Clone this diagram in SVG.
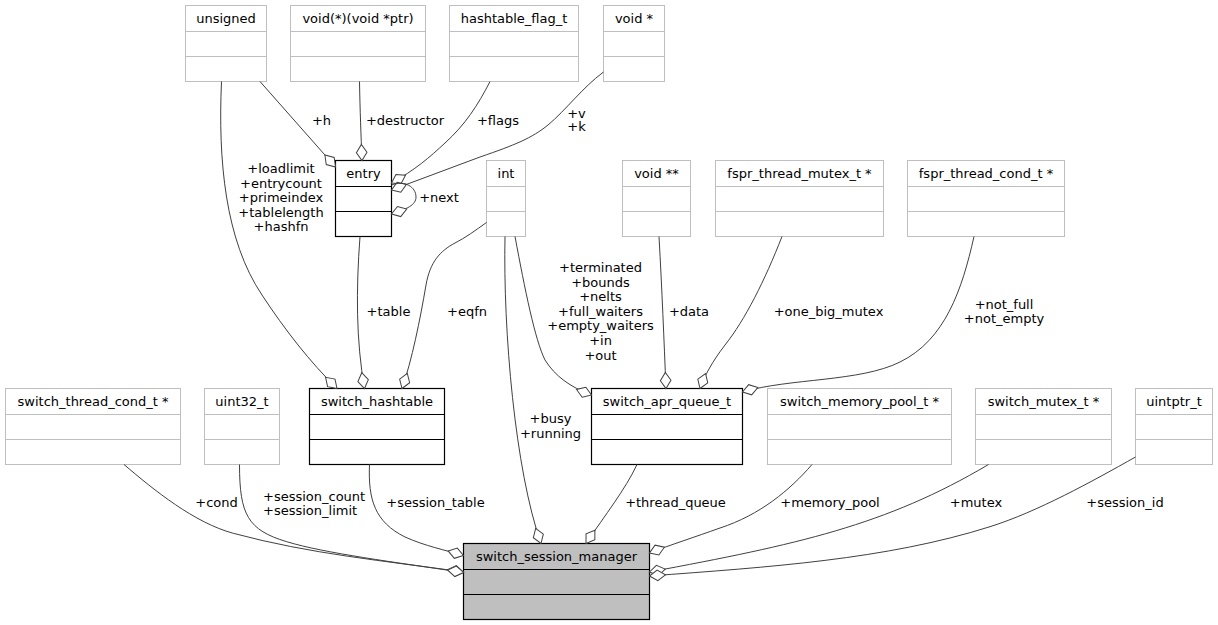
<svg xmlns="http://www.w3.org/2000/svg" width="1218" height="625" viewBox="0 0 1218 625">
<style>
text{font-family:"DejaVu Sans","Liberation Sans",sans-serif;font-size:13px;fill:#000;text-anchor:middle}
.ext rect{fill:#fff;stroke:#bfbfbf;stroke-width:1}
.ext line{stroke:#bfbfbf;stroke-width:1}
.doc rect{fill:#fff;stroke:#000;stroke-width:1.2}
.doc line{stroke:#000;stroke-width:1.2}
.main rect{fill:#bfbfbf;stroke:#000;stroke-width:1.2}
.main line{stroke:#000;stroke-width:1.2}
.e path{fill:none;stroke:#404040;stroke-width:1;marker-end:url(#od)}
.l text.s{text-anchor:start}
</style>
<defs>
<marker id="od" viewBox="0 0 18 12" refX="17" refY="6" markerWidth="18" markerHeight="12" markerUnits="userSpaceOnUse" orient="auto" overflow="visible">
<path d="M17,6 L9,0.7 L1,6 L9,11.3 Z" fill="#fff" stroke="#404040" stroke-width="1"/>
</marker>
</defs>
<rect width="1218" height="625" fill="#fff"/>

<g id="node-unsigned" class="ext"><rect x="185.5" y="5.5" width="81" height="76"/><line x1="185.5" y1="31.5" x2="266.5" y2="31.5"/><line x1="185.5" y1="56.5" x2="266.5" y2="56.5"/><text x="226" y="22.5">unsigned</text></g>
<g id="node-destructor-type" class="ext"><rect x="290.5" y="5.5" width="135" height="76"/><line x1="290.5" y1="31.5" x2="425.5" y2="31.5"/><line x1="290.5" y1="56.5" x2="425.5" y2="56.5"/><text x="358" y="22.5">void(*)(void *ptr)</text></g>
<g id="node-hashtable_flag_t" class="ext"><rect x="449.5" y="5.5" width="129" height="76"/><line x1="449.5" y1="31.5" x2="578.5" y2="31.5"/><line x1="449.5" y1="56.5" x2="578.5" y2="56.5"/><text x="514" y="22.5">hashtable_flag_t</text></g>
<g id="node-voidp" class="ext"><rect x="603.5" y="5.5" width="61" height="76"/><line x1="603.5" y1="31.5" x2="664.5" y2="31.5"/><line x1="603.5" y1="56.5" x2="664.5" y2="56.5"/><text x="634" y="22.5">void *</text></g>

<g id="node-entry" class="doc"><rect x="335.5" y="160.5" width="56" height="76"/><line x1="335.5" y1="186.5" x2="391.5" y2="186.5"/><line x1="335.5" y1="211.5" x2="391.5" y2="211.5"/><text x="363.5" y="177.5">entry</text></g>
<g id="node-int" class="ext"><rect x="486.5" y="160.5" width="39" height="76"/><line x1="486.5" y1="186.5" x2="525.5" y2="186.5"/><line x1="486.5" y1="211.5" x2="525.5" y2="211.5"/><text x="506" y="177.5">int</text></g>
<g id="node-voidpp" class="ext"><rect x="622.5" y="160.5" width="68" height="76"/><line x1="622.5" y1="186.5" x2="690.5" y2="186.5"/><line x1="622.5" y1="211.5" x2="690.5" y2="211.5"/><text x="656.5" y="177.5">void **</text></g>
<g id="node-fspr_thread_mutex_t" class="ext"><rect x="715.5" y="160.5" width="168" height="76"/><line x1="715.5" y1="186.5" x2="883.5" y2="186.5"/><line x1="715.5" y1="211.5" x2="883.5" y2="211.5"/><text x="799.5" y="177.5">fspr_thread_mutex_t *</text></g>
<g id="node-fspr_thread_cond_t" class="ext"><rect x="907.5" y="160.5" width="157" height="76"/><line x1="907.5" y1="186.5" x2="1064.5" y2="186.5"/><line x1="907.5" y1="211.5" x2="1064.5" y2="211.5"/><text x="986" y="177.5">fspr_thread_cond_t *</text></g>

<g id="node-switch_thread_cond_t" class="ext"><rect x="5.5" y="388.5" width="175" height="76"/><line x1="5.5" y1="414.5" x2="180.5" y2="414.5"/><line x1="5.5" y1="439.5" x2="180.5" y2="439.5"/><text x="93" y="405.5">switch_thread_cond_t *</text></g>
<g id="node-uint32_t" class="ext"><rect x="204.5" y="388.5" width="75" height="76"/><line x1="204.5" y1="414.5" x2="279.5" y2="414.5"/><line x1="204.5" y1="439.5" x2="279.5" y2="439.5"/><text x="242" y="405.5">uint32_t</text></g>
<g id="node-switch_hashtable" class="doc"><rect x="309.5" y="388.5" width="135" height="76"/><line x1="309.5" y1="414.5" x2="444.5" y2="414.5"/><line x1="309.5" y1="439.5" x2="444.5" y2="439.5"/><text x="377" y="405.5">switch_hashtable</text></g>
<g id="node-switch_apr_queue_t" class="doc"><rect x="591.5" y="388.5" width="151" height="76"/><line x1="591.5" y1="414.5" x2="742.5" y2="414.5"/><line x1="591.5" y1="439.5" x2="742.5" y2="439.5"/><text x="667" y="405.5">switch_apr_queue_t</text></g>
<g id="node-switch_memory_pool_t" class="ext"><rect x="767.5" y="388.5" width="184" height="76"/><line x1="767.5" y1="414.5" x2="951.5" y2="414.5"/><line x1="767.5" y1="439.5" x2="951.5" y2="439.5"/><text x="859.5" y="405.5">switch_memory_pool_t *</text></g>
<g id="node-switch_mutex_t" class="ext"><rect x="975.5" y="388.5" width="136" height="76"/><line x1="975.5" y1="414.5" x2="1111.5" y2="414.5"/><line x1="975.5" y1="439.5" x2="1111.5" y2="439.5"/><text x="1043.5" y="405.5">switch_mutex_t *</text></g>
<g id="node-uintptr_t" class="ext"><rect x="1135.5" y="388.5" width="77" height="76"/><line x1="1135.5" y1="414.5" x2="1212.5" y2="414.5"/><line x1="1135.5" y1="439.5" x2="1212.5" y2="439.5"/><text x="1174" y="405.5">uintptr_t</text></g>

<g id="node-switch_session_manager" class="main"><rect x="463.5" y="543.5" width="186" height="76"/><line x1="463.5" y1="569.5" x2="649.5" y2="569.5"/><line x1="463.5" y1="594.5" x2="649.5" y2="594.5"/><text x="556.5" y="560.5">switch_session_manager</text></g>

<g id="edges">
<g class="e">
<path d="M260,81.5 L335.5,167"/>
<path d="M359.5,81.5 C360,110 361,135 362,160.5"/>
<path d="M490,81.5 C478,105 465,125 445,143 C430,157 415,170 391.5,183"/>
<path d="M603.5,72 C582,88 566,110 548,125 C532,138 515,145 480,157 L391.5,190"/>
<path d="M391.5,185 C405,180 416,187 416,197 C416,205 407,209 391.5,214"/>
<path d="M221.5,81.5 C218,160 225,240 262,295 C285,330 310,362 337,388.5"/>
<path d="M360,236.5 C356,290 356,340 364.5,388.5"/>
<path d="M486.5,222.5 C476,230 465,238 455,243 C440,251 430,262 426,285 C420,320 412,360 402,388.5"/>
<path d="M515,236.5 C525,290 535,340 545,360 C555,376 570,387 591.5,395"/>
<path d="M659,236.5 C662,290 664,340 666,388.5"/>
<path d="M782,236.5 C765,280 745,320 725,345 C712,362 705,375 700,388.5"/>
<path d="M974,236.5 C962,290 945,340 900,362 C860,382 790,378 742.5,392"/>
<path d="M124,464.5 C154.4,490.5 194.7,522.9 233.3,533.3 C310.5,554.1 384.4,560.7 463.5,572"/>
<path d="M239.5,464.5 C239.5,515 248,530 286.7,541.7 C325,553.3 394.3,562.1 463.5,572.5"/>
<path d="M369.5,464.5 C368,500 375,522 405,537 C425,546 445,550 463.5,555.5"/>
<path d="M505,236.5 C503,330 515,470 541,543.5"/>
<path d="M637,464.5 C625,490 605,515 586,543.5"/>
<path d="M812,464.5 C790,490 760,515 720,528 C695,537 670,545 649.5,553"/>
<path d="M988.5,464.5 C885.3,525.7 797,544.4 649.5,572"/>
<path d="M1135.5,457 C1092,481.5 1037.5,511.7 990,526.7 C885.5,559.7 768.7,567 649.5,576"/>
</g>
<g class="l">
<text x="321.5" y="124.5">+h</text>
<text x="405" y="124.5">+destructor</text>
<text x="498" y="124.5">+flags</text>
<text x="576.5" y="118">+v</text>
<text x="576.5" y="131">+k</text>
<text x="439" y="201.5">+next</text>
<text x="281" y="173">+loadlimit</text>
<text x="281" y="187.5">+entrycount</text>
<text x="281" y="202">+primeindex</text>
<text x="281" y="216.5">+tablelength</text>
<text x="281" y="231">+hashfn</text>
<text x="388.5" y="316">+table</text>
<text x="467" y="316">+eqfn</text>
<text x="600.5" y="272">+terminated</text>
<text x="600.5" y="286.6">+bounds</text>
<text x="600.5" y="301.2">+nelts</text>
<text x="600.5" y="315.8">+full_waiters</text>
<text x="600.5" y="330.4">+empty_waiters</text>
<text x="600.5" y="345">+in</text>
<text x="600.5" y="359.6">+out</text>
<text x="689" y="316">+data</text>
<text x="828.5" y="316">+one_big_mutex</text>
<text x="1004" y="308.5">+not_full</text>
<text x="1004" y="323">+not_empty</text>
<text x="550.5" y="423">+busy</text>
<text x="550.5" y="437.5">+running</text>
<text x="216.5" y="507">+cond</text>
<text class="s" x="263" y="500.5">+session_count</text>
<text class="s" x="263" y="515">+session_limit</text>
<text x="435.5" y="507">+session_table</text>
<text x="675.5" y="507">+thread_queue</text>
<text x="830" y="507">+memory_pool</text>
<text x="976" y="507">+mutex</text>
<text x="1125" y="507">+session_id</text>
</g>
</g>
</svg>
